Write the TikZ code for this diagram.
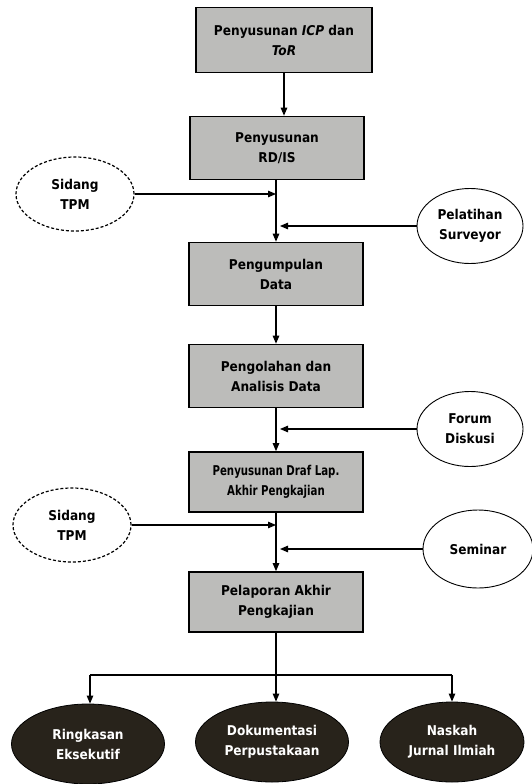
\documentclass[tikz,border=0pt]{standalone}
\usepackage{fontspec}
\setmainfont{DejaVu Sans Condensed}
\newfontfamily\narrowfont[FakeStretch=0.84]{DejaVu Sans Condensed}
\usetikzlibrary{shapes.geometric,arrows.meta}
\definecolor{boxgray}{RGB}{188,188,186}
\definecolor{outdark}{RGB}{40,35,27}
\begin{document}
\begin{tikzpicture}[x=1pt,y=-1pt,
  txt/.style={font=\bfseries\fontsize{13.5}{20}\selectfont, align=center},
  stepbox/.style={txt, draw=black, line width=1.6pt, fill=boxgray,
    inner sep=0pt, minimum width=174pt, minimum height=63pt},
  inell/.style={txt, ellipse, draw=black, line width=0.9pt, fill=white,
    inner sep=0pt, minimum width=106pt, minimum height=75pt},
  tpmell/.style={inell, dash pattern=on 3pt off 2pt, line width=1.2pt,
    minimum width=118pt, minimum height=74pt},
  outell/.style={txt, ellipse, draw=black, line width=0.8pt, fill=outdark,
    text=white, inner sep=0pt, minimum width=153pt, minimum height=80pt},
  link/.style={line width=1.1pt, draw=black},
  flow/.style={link, -{Triangle[length=8pt,width=6.5pt]}}
]
\useasboundingbox (0,0) rectangle (531,784);

% main process steps
\node[stepbox, minimum width=176pt, minimum height=65pt] (s1) at (284,40)
  {Penyusunan \textit{ICP} dan\\\textit{ToR}};
\node[stepbox] (s2) at (277,148) {Penyusunan\\RD/IS};
\node[stepbox] (s3) at (276,274) {Pengumpulan\\Data};
\node[stepbox] (s4) at (276,376) {Pengolahan dan\\Analisis Data};
\node[stepbox, minimum height=60pt,
  font=\narrowfont\bfseries\fontsize{13.5}{20}\selectfont] (s5) at (276,482)
  {Penyusunan Draf Lap.\\Akhir Pengkajian};
\node[stepbox, minimum height=60pt] (s6) at (276,602)
  {Pelaporan Akhir\\Pengkajian};

% side inputs
\node[tpmell] (tpm1) at (75,194) {Sidang\\TPM};
\node[inell] (pel) at (470,226) {Pelatihan\\Surveyor};
\node[inell] (forum) at (470,429) {Forum\\Diskusi};
\node[tpmell] (tpm2) at (72,525) {Sidang\\TPM};
\node[inell, minimum width=110pt, minimum height=78pt] (sem) at (478,549) {Seminar};

% outputs
\node[outell] (o1) at (88,744) {Ringkasan\\Eksekutif};
\node[outell] (o2) at (272,742) {Dokumentasi\\Perpustakaan};
\node[outell, minimum width=144pt] (o3) at (452,742) {Naskah\\Jurnal Ilmiah};

% junction points on the main line
\coordinate (jA) at (276,194);
\coordinate (jB) at (280,226);
\coordinate (jC) at (280,429);
\coordinate (jD) at (276,525);
\coordinate (jE) at (280,549);
\coordinate (split) at (276,675);
\coordinate (bL) at (90,675);
\coordinate (bR) at (452,675);

% flow between steps
\draw[flow] (s1.south) -- (s1.south |- s2.north);
\draw[flow] (s2.south -| jA) -- (s3.north -| jA);
\draw[flow] (s3.south -| jA) -- (s4.north -| jA);
\draw[flow] (s4.south -| jA) -- (s5.north -| jA);
\draw[flow] (s5.south -| jA) -- (s6.north -| jA);

% inputs joining the main line
\draw[flow] (tpm1.east) -- (jA);
\draw[flow] (pel.west) -- (jB);
\draw[flow] (forum.west) -- (jC);
\draw[flow] (tpm2.east) -- (jD);
\draw[flow] (sem.west) -- (jE);

% branching to outputs
\draw[link] (s6.south -| split) -- (split);
\draw[link] (bL) -- (bR);
\draw[flow] (bL) -- (bL |- o1.north);
\draw[flow] (split) -- (split |- o2.north);
\draw[flow] (bR) -- (bR |- o3.north);
\end{tikzpicture}
\end{document}
